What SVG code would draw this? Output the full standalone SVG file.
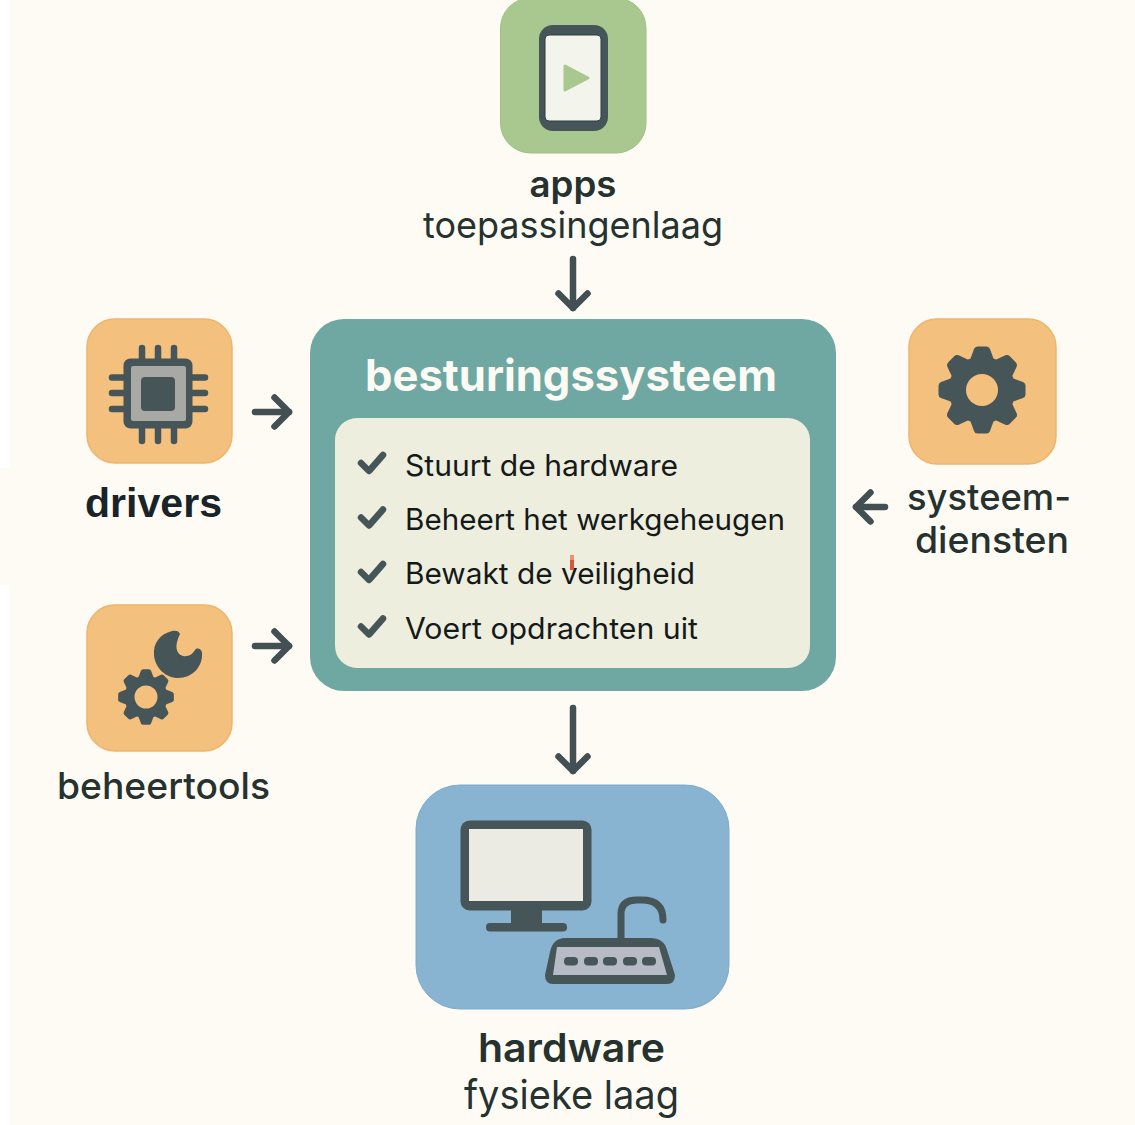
<svg xmlns="http://www.w3.org/2000/svg" width="1135" height="1125" viewBox="0 0 1135 1125">
<style>
text{font-family:"Inter","Liberation Sans",sans-serif;fill:#25322f}
.b{font-weight:600}
.m{font-weight:500}
.r{font-weight:400}
.li{font-size:29.5px;fill:#14191a}
.d{fill:#465558}
.conn{fill:none;stroke:#435053;stroke-width:6.500;stroke-linecap:round;marker-end:url(#head)}
.chk{fill:none;stroke:#465558;stroke-width:6.500;stroke-linecap:round;stroke-linejoin:round}
.pin{fill:none;stroke:#465558;stroke-width:6.500;stroke-linecap:round}
.orange{fill:#f3c07e;stroke:#edb56d;stroke-width:1.500}
</style>
<defs>
<marker id="head" markerUnits="userSpaceOnUse" markerWidth="40" markerHeight="40" refX="20" refY="20" orient="auto" viewBox="0 0 40 40">
<path d="M5.500 5.500 L20 20 L5.500 34.500" fill="none" stroke="#435053" stroke-width="6.500" stroke-linecap="round" stroke-linejoin="round"/>
</marker>
<path id="tooth" class="d" d="M-12 -30L-8 -41Q-7 -43.500 -4.500 -43.500H4.500Q7 -43.500 8 -41L12 -30Z"/>
<g id="gear">
<circle r="33.500" class="d"/>
<use href="#tooth"/>
<use href="#tooth" transform="rotate(45)"/>
<use href="#tooth" transform="rotate(90)"/>
<use href="#tooth" transform="rotate(135)"/>
<use href="#tooth" transform="rotate(180)"/>
<use href="#tooth" transform="rotate(225)"/>
<use href="#tooth" transform="rotate(270)"/>
<use href="#tooth" transform="rotate(315)"/>
<circle r="16" fill="#f3c07e"/>
</g>
</defs>
<rect width="1135" height="1125" fill="#fefbf4"/>
<rect width="10" height="468" fill="#ffffff"/>
<rect y="585" width="10" height="540" fill="#ffffff"/>

<g id="connectors">
<path class="conn" d="M573 259V308"/>
<path class="conn" d="M573 708V771"/>
<path class="conn" d="M255 412H289"/>
<path class="conn" d="M255 646H289"/>
<path class="conn" d="M885 507H856"/>
</g>

<g id="apps">
<rect x="500.500" y="-2" width="145.500" height="155" rx="30" fill="#a9c88f" stroke="#9dc285"/>
<rect x="539" y="25" width="69" height="106" rx="14" class="d"/>
<rect x="545" y="35" width="56" height="86" rx="4" fill="#f3f4ec" stroke="#2f3d40"/>
<path d="M565 66L588 78L565 90Z" fill="#a9c88f" stroke="#a9c88f" stroke-width="3" stroke-linejoin="round"/>
<text x="573" y="197" text-anchor="middle" font-size="36" class="b" textLength="87" lengthAdjust="spacingAndGlyphs">apps</text>
<text x="573" y="238" text-anchor="middle" font-size="37" class="r" textLength="300" lengthAdjust="spacingAndGlyphs">toepassingenlaag</text>
</g>

<g id="besturingssysteem">
<rect x="310" y="319" width="526" height="372" rx="34" fill="#6fa8a3"/>
<text x="571" y="391" text-anchor="middle" font-size="44" font-weight="700" style="fill:#fbfbf3" textLength="412" lengthAdjust="spacingAndGlyphs">besturingssysteem</text>
<rect x="335" y="418" width="475" height="250" rx="22" fill="#eeeedf"/>
<path class="chk" d="M361 463L369 471L383 455"/>
<path class="chk" d="M361 517.500L369 525.500L383 509.500"/>
<path class="chk" d="M361 572L369 580L383 564"/>
<path class="chk" d="M361 626.500L369 634.500L383 618.500"/>
<text x="405" y="476" class="li r" textLength="273" lengthAdjust="spacingAndGlyphs">Stuurt de hardware</text>
<text x="405" y="530" class="li r" textLength="380" lengthAdjust="spacingAndGlyphs">Beheert het werkgeheugen</text>
<text x="405" y="584" class="li r" textLength="290" lengthAdjust="spacingAndGlyphs">Bewakt de veiligheid</text>
<text x="405" y="639" class="li r" textLength="293" lengthAdjust="spacingAndGlyphs">Voert opdrachten uit</text>
<rect x="570" y="555" width="4" height="5" fill="#f09070"/>
<rect x="570" y="560" width="4" height="10" fill="#d9553a"/>
</g>

<g id="drivers">
<rect x="87" y="319" width="145" height="144" rx="28" class="orange"/>
<path class="pin" d="M142 348V360M158 348V360M174 348V360M142 427V441M158 427V441M174 427V441M112 377.500H125M112 393H125M112 409H125M192 377.500H205M192 393H205M192 409H205"/>
<rect x="123.500" y="358.500" width="69" height="70" rx="7" class="d"/>
<rect x="131" y="366" width="55" height="55" rx="2" fill="#a8a9a4"/>
<rect x="141" y="377" width="34" height="34" rx="4" class="d"/>
<text x="153.500" y="517" text-anchor="middle" font-size="40" font-weight="700" style="font-family:'Liberation Sans',sans-serif;fill:#182428" textLength="137" lengthAdjust="spacingAndGlyphs">drivers</text>
</g>

<g id="beheertools">
<rect x="87" y="605" width="145" height="146" rx="28" class="orange"/>
<use href="#gear" transform="translate(146 697) scale(.64)"/>
<circle cx="146" cy="697" r="11.500" fill="#f3c07e"/>
<path class="d" d="M180 634C179 631 176 630 172 631C160 634 153 643 154 655C155 668 166 678 178 678C193 678 203 666 202 653C202 649 197 647 195 650C192 655 188 657 183 656C176 654 174 646 180 634Z"/>
<text x="163.500" y="799" text-anchor="middle" font-size="37" class="m" textLength="213" lengthAdjust="spacingAndGlyphs">beheertools</text>
</g>

<g id="systeemdiensten">
<rect x="909" y="319" width="147" height="145" rx="28" class="orange"/>
<use href="#gear" transform="translate(982 390)"/>
<text x="989" y="510" text-anchor="middle" font-size="37" class="m" textLength="164" lengthAdjust="spacingAndGlyphs">systeem-</text>
<text x="992" y="553" text-anchor="middle" font-size="37" class="m" textLength="154" lengthAdjust="spacingAndGlyphs">diensten</text>
</g>

<g id="hardware">
<rect x="416" y="785" width="313" height="224" rx="44" fill="#88b3d1" stroke="#7eaccd"/>
<rect x="460.500" y="820.500" width="131" height="90" rx="9" class="d"/>
<rect x="469" y="829" width="114" height="72" fill="#ebebe3"/>
<rect x="511" y="908" width="31" height="18" class="d"/>
<rect x="486" y="923" width="81" height="8.500" rx="4" class="d"/>
<path d="M621 942V914Q621 900 637 900H642Q663 900 663 920" fill="none" stroke="#465558" stroke-width="7" stroke-linecap="round"/>
<path class="d" d="M565 938H650Q664 938 667 950L675 975Q675 984 667 984H553Q545 984 545 975L550 952Q553 938 565 938Z"/>
<path d="M557 947H659L667 975H553Z" fill="#b6bbc6"/>
<g class="d">
<rect x="564" y="957" width="14" height="8.500" rx="4"/>
<rect x="584" y="957" width="14" height="8.500" rx="4"/>
<rect x="603" y="957" width="14" height="8.500" rx="4"/>
<rect x="623" y="957" width="14" height="8.500" rx="4"/>
<rect x="642" y="957" width="14" height="8.500" rx="4"/>
</g>
<text x="571.500" y="1062" text-anchor="middle" font-size="40" class="b" textLength="187" lengthAdjust="spacingAndGlyphs">hardware</text>
<text x="571.500" y="1109" text-anchor="middle" font-size="40" class="r" textLength="215" lengthAdjust="spacingAndGlyphs">fysieke laag</text>
</g>
</svg>
